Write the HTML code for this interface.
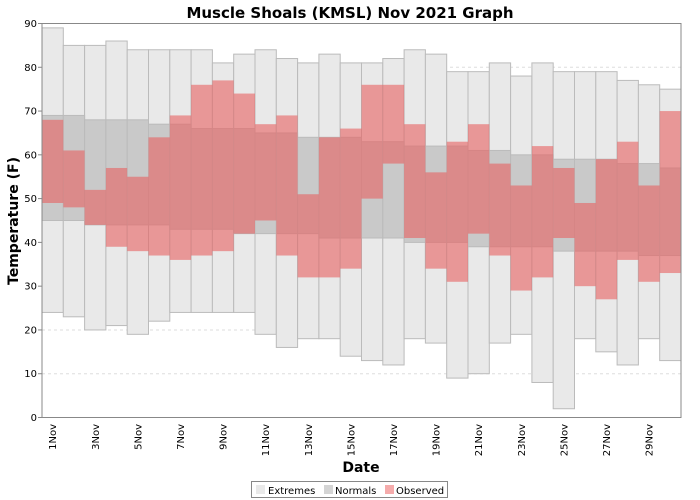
<!DOCTYPE html>
<html><head><meta charset="utf-8"><style>
body{margin:0;background:#fff;}
svg{display:block;font-family:"DejaVu Sans","Liberation Sans",sans-serif;}
</style></head><body>
<svg id="chart" width="700" height="500" viewBox="0 0 700 500">
<text x="350" y="18" text-anchor="middle" font-size="15" font-weight="bold">Muscle Shoals (KMSL) Nov 2021 Graph</text>
<g id="grid"></g>
<g id="bars"></g>
<rect x="42" y="23.5" width="639" height="394" fill="none" stroke="#888" stroke-width="1"/>
<g id="yticks" font-size="10"></g>
<g id="xticks" font-size="10"></g>
<text transform="translate(18,221) rotate(-90)" text-anchor="middle" font-size="14" font-weight="bold">Temperature (F)</text>
<text x="361" y="472" text-anchor="middle" font-size="14" font-weight="bold">Date</text>
<g>
<rect x="251.5" y="481.5" width="196" height="16" fill="#fff" stroke="#888"/>
<rect x="256" y="485" width="9" height="9" fill="#e9e9e9"/>
<text x="268" y="494" font-size="10">Extremes</text>
<rect x="324" y="485" width="9" height="9" fill="#d4d4d4"/>
<text x="335" y="494" font-size="10">Normals</text>
<rect x="385" y="485" width="9" height="9" fill="#f5abab"/>
<text x="396" y="494" font-size="10">Observed</text>
</g>
</svg>
<script>
const days = [1,2,3,4,5,6,7,8,9,10,11,12,13,14,15,16,17,18,19,20,21,22,23,24,25,26,27,28,29,30];
const extHi = [89,85,85,86,84,84,84,84,81,83,84,82,81,83,81,81,82,84,83,79,79,81,78,81,79,79,79,77,76,75];
const extLo = [24,23,20,21,19,22,24,24,24,24,19,16,18,18,14,13,12,18,17,9,10,17,19,8,2,18,15,12,18,13];
const normHi = [69,69,68,68,68,67,67,66,66,66,65,65,64,64,64,63,63,62,62,62,61,61,60,60,59,59,59,58,58,57];
const normLo = [45,45,44,44,44,44,43,43,43,42,42,42,42,41,41,41,41,40,40,40,39,39,39,39,38,38,38,38,37,37];
const obsHi = [68,61,52,57,55,64,69,76,77,74,67,69,51,64,66,76,76,67,56,63,67,58,53,62,57,49,59,63,53,70];
const obsLo = [49,48,44,39,38,37,36,37,38,42,45,37,32,32,34,50,58,41,34,31,42,37,29,32,41,30,27,36,31,33];
const yTicks = [0,10,20,30,40,50,60,70,80,90];

const NS = "http://www.w3.org/2000/svg";
const L = 42, R = 681, T = 23.5, B = 417.5;
const bw = (R - L) / days.length;
const y = v => B - v * (B - T) / 90;
const x = i => L + i * bw;

function mk(tag, attrs, parent) {
  const e = document.createElementNS(NS, tag);
  for (const k in attrs) e.setAttribute(k, attrs[k]);
  parent.appendChild(e);
  return e;
}
const grid = document.getElementById('grid');
const yt = document.getElementById('yticks');
yTicks.forEach(v => {
  if (v > 0 && v < 90) {
    const g = mk('line', {x1: L, x2: R, y1: y(v), y2: y(v), stroke: '#ddd', 'stroke-dasharray': '3,3'}, grid);
    
    
  }
  mk('line', {x1: L - 4, x2: L, y1: y(v), y2: y(v), stroke: '#888'}, yt);
  const t = mk('text', {x: L - 5, y: y(v) + 3.5, 'text-anchor': 'end'}, yt);
  t.textContent = v;
  
  
});
const bars = document.getElementById('bars');
function box(i, hi, lo, fill, stroke, name) {
  const r = mk('rect', {x: x(i), y: y(hi), width: bw, height: y(lo) - y(hi), fill: fill, stroke: stroke, 'stroke-width': 1}, bars);
  
  
}
days.forEach((d, i) => box(i, extHi[i], extLo[i], '#e9e9e9', '#bbb', 'extremes-bar'));
days.forEach((d, i) => box(i, normHi[i], normLo[i], '#c9c9c9', '#bbb', 'normals-bar'));
days.forEach((d, i) => box(i, obsHi[i], obsLo[i], 'rgba(232,97,97,0.6)', 'none', 'observed-bar'));
const xt = document.getElementById('xticks');
days.forEach((d, i) => {
  if (d % 2 === 1) {
    const cx = x(i) + bw / 2;
    const t = mk('text', {transform: `translate(${cx + 3.5},${424}) rotate(-90)`, 'text-anchor': 'end'}, xt);
    t.textContent = d + 'Nov';
    
    
  }
});
</script>
</body></html>
